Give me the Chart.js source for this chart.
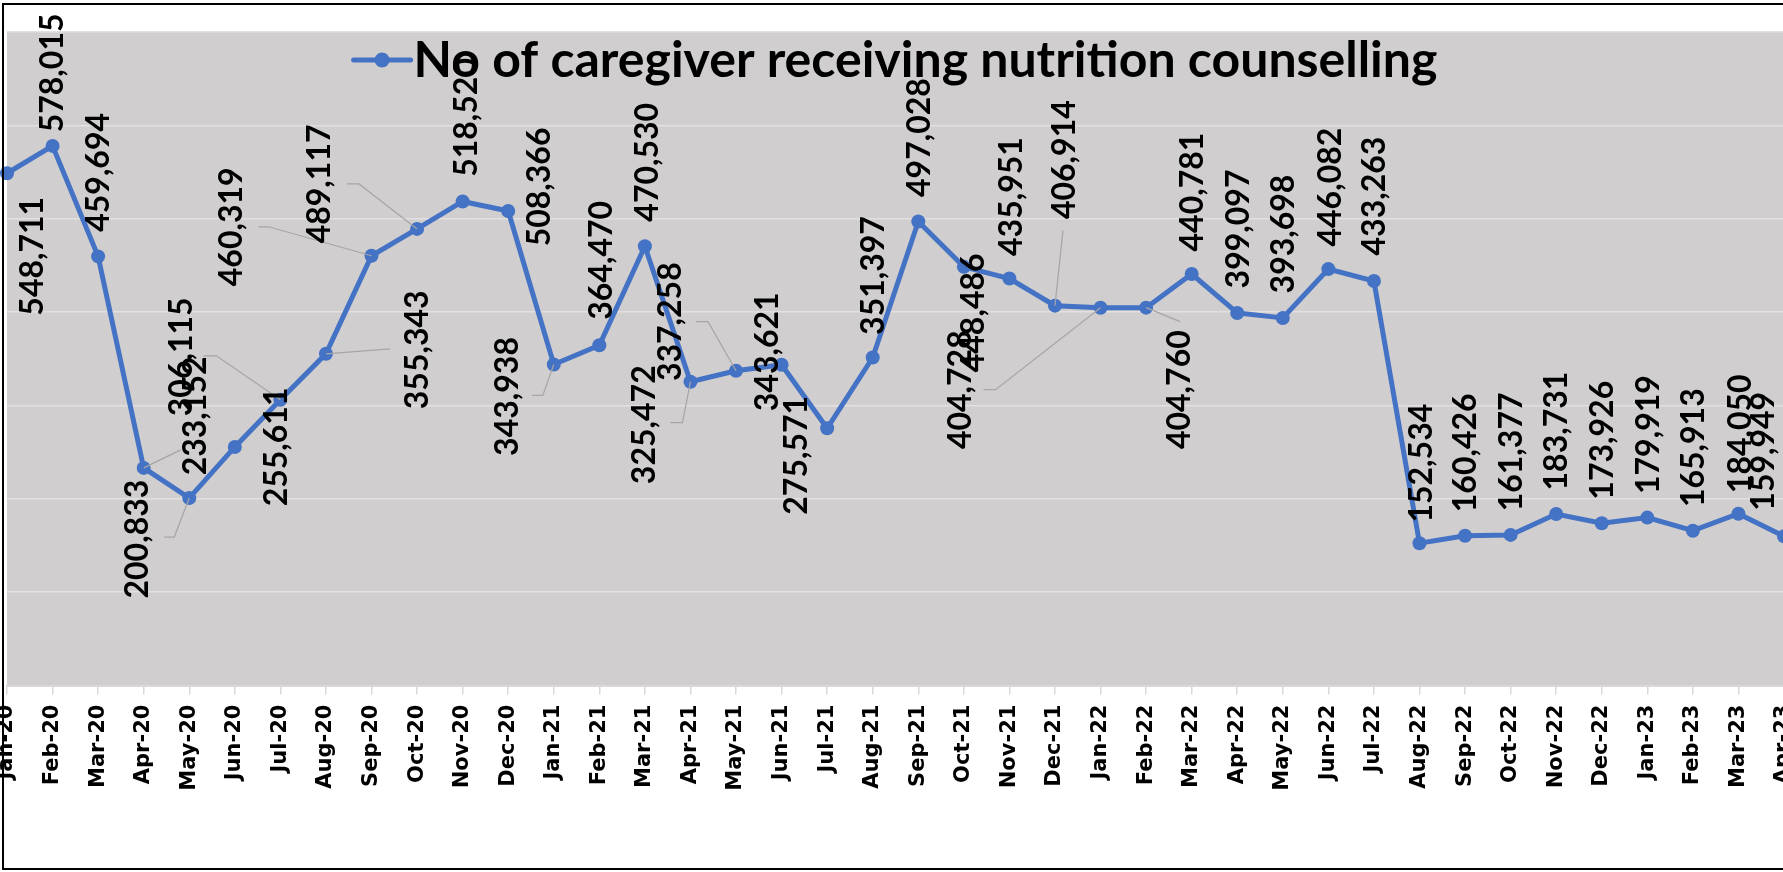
<!DOCTYPE html>
<html>
<head>
<meta charset="utf-8">
<title>Caregivers receiving nutrition counselling</title>
<script src="https://cdn.jsdelivr.net/npm/chart.js@4.4.0/dist/chart.umd.min.js"></script>
<style>
  html, body { margin: 0; padding: 0; background: #fff; overflow: hidden; width: 1783px; height: 872px; }
  #wrap { position: absolute; left: 0; top: 0; width: 1791px; height: 872px; }
  #frame { position: absolute; left: 2px; top: 3px; width: 3000px; height: 867px;
           box-sizing: border-box; border: 2px solid #000; pointer-events: none; }
</style>
</head>
<body>
<div id="wrap"><canvas id="myChart"></canvas></div>
<div id="frame"></div>
<script>
const seriesName = "No of caregiver receiving nutrition counselling";

const months = [
  "Jan-20", "Feb-20", "Mar-20", "Apr-20", "May-20", "Jun-20", "Jul-20", "Aug-20",
  "Sep-20", "Oct-20", "Nov-20", "Dec-20", "Jan-21", "Feb-21", "Mar-21", "Apr-21",
  "May-21", "Jun-21", "Jul-21", "Aug-21", "Sep-21", "Oct-21", "Nov-21", "Dec-21",
  "Jan-22", "Feb-22", "Mar-22", "Apr-22", "May-22", "Jun-22", "Jul-22", "Aug-22",
  "Sep-22", "Oct-22", "Nov-22", "Dec-22", "Jan-23", "Feb-23", "Mar-23", "Apr-23"
];

const caregivers = [
  548711, 578015, 459694, 233152, 200833, 255611, 306115, 355343,
  460319, 489117, 518520, 508366, 343938, 364470, 470530, 325472,
  337258, 343621, 275571, 351397, 497028, 448486, 435951, 406914,
  404728, 404760, 440781, 399097, 393698, 446082, 433263, 152534,
  160426, 161377, 183731, 173926, 179919, 165913, 184050, 159949
];

const yMin = 0;
const yMax = 700000;
const yStep = 100000;

// where each data label sits relative to its point (px), like the hand-moved Excel labels
const labelShift = [
  [26, 83], [0, -73], [1, -84], [52, -52], [-52, 41], [42, 0], [-99, -43], [92, -4],
  [-140, -29], [-97, -45], [4, -84], [31, -24], [-46, 32], [2, -85], [3, -84], [-46, 43],
  [-65, -49], [-14, -13], [-30, 27], [1, -82], [1, -84], [10, 46], [2, -82], [10, -146],
  [-140, 82], [34, 82], [1, -82], [1, -84], [1, -84], [2, -82], [1, -85], [2, -80],
  [1, -83], [1, -83], [1, -83], [1, -83], [1, -83], [1, -83], [2, -80], [-20, -85]
];

// leader lines for the moved labels: bends relative to the point
const leaderBends = {
  3: [[37, -18]],
  4: [[-15, 39], [-25, 39]],
  6: [[-64, -44], [-77, -44]],
  7: [[64, -5]],
  8: [[-103, -29], [-113, -29]],
  9: [[-58, -45], [-70, -45]],
  12: [[-11, 31], [-22, 31]],
  15: [[-8, 41], [-20, 41]],
  16: [[-28, -49], [-40, -49]],
  23: [[8, -75]],
  24: [[-105, 82], [-117, 82]],
  25: [[34, 14]]
};

const lineColor = "#4472C4";

const plotBackground = {
  id: "plotBackground",
  beforeDraw(chart) {
    const { ctx, chartArea: a } = chart;
    ctx.save();
    ctx.fillStyle = "#D0CECE";
    ctx.fillRect(a.left, a.top, a.right - a.left, a.bottom - a.top);
    ctx.restore();
  }
};

const labelsAndLegend = {
  id: "labelsAndLegend",
  afterDatasetsDraw(chart) {
    const ctx = chart.ctx;
    const a = chart.chartArea;
    const pts = chart.getDatasetMeta(0).data;

    // legend inside the plot, centred
    ctx.save();
    ctx.font = "bold 50px Lato";
    const tw = ctx.measureText(seriesName).width;
    const x0 = (a.left + a.right) / 2 - (60 + tw) / 2;
    const ly = 60;
    ctx.strokeStyle = lineColor;
    ctx.lineWidth = 5;
    ctx.lineCap = "round";
    ctx.beginPath();
    ctx.moveTo(x0, ly);
    ctx.lineTo(x0 + 57, ly);
    ctx.stroke();
    ctx.fillStyle = lineColor;
    ctx.beginPath();
    ctx.arc(x0 + 28.5, ly, 7.5, 0, Math.PI * 2);
    ctx.fill();
    ctx.fillStyle = "#000";
    ctx.textAlign = "left";
    ctx.textBaseline = "alphabetic";
    ctx.fillText(seriesName, x0 + 60, 77);

    // leader lines
    ctx.strokeStyle = "#A6A6A6";
    ctx.lineWidth = 1.2;
    ctx.lineCap = "butt";
    Object.keys(leaderBends).forEach(k => {
      const p = pts[k];
      ctx.beginPath();
      ctx.moveTo(p.x, p.y);
      leaderBends[k].forEach(([dx, dy]) => ctx.lineTo(p.x + dx, p.y + dy));
      ctx.stroke();
    });

    // data labels, rotated
    ctx.font = "bold 32px Lato";
    ctx.textAlign = "center";
    ctx.textBaseline = "middle";
    ctx.fillStyle = "#000";
    pts.forEach((p, i) => {
      const [dx, dy] = labelShift[i];
      ctx.save();
      ctx.translate(p.x + dx, p.y + dy);
      ctx.rotate(-Math.PI / 2);
      ctx.fillText(caregivers[i].toLocaleString("en-US"), 0, 0);
      ctx.restore();
    });
    ctx.restore();
  }
};

window.onload = () => {
  new Chart("myChart", {
    type: "line",
    data: {
      labels: months,
      datasets: [{
        label: seriesName,
        data: caregivers,
        borderColor: lineColor,
        backgroundColor: lineColor,
        borderWidth: 5,
        pointRadius: 7,
        pointBorderWidth: 0,
        pointBackgroundColor: lineColor,
        tension: 0
      }]
    },
    options: {
      responsive: true,
      maintainAspectRatio: false,
      animation: false,
      layout: { padding: { left: 4.5, right: 0, top: 32, bottom: 0 } },
      plugins: { legend: { display: false }, tooltip: { enabled: false } },
      scales: {
        x: {
          offset: false,
          grid: { drawOnChartArea: false, drawTicks: true, tickLength: 9, color: "#D9D9D9", lineWidth: 1.5 },
          border: { color: "#D9D9D9", width: 2 },
          ticks: {
            autoSkip: false, minRotation: 90, maxRotation: 90, padding: 10, color: "#000",
            font: { family: "DejaVu Sans", weight: "bold", size: 21 }
          },
          afterFit(s) { s.paddingLeft = 0; s.paddingRight = 0; s.height = 872 - 685.6; }
        },
        y: {
          min: yMin,
          max: yMax,
          ticks: { stepSize: yStep, display: false },
          grid: { color: "#E2E0E0", lineWidth: 1.5, drawTicks: false },
          border: { display: false },
          afterFit(s) { s.width = 0; s.paddingTop = 0; s.paddingBottom = 0; }
        }
      }
    },
    plugins: [plotBackground, labelsAndLegend]
  });
};
</script>
</body>
</html>
